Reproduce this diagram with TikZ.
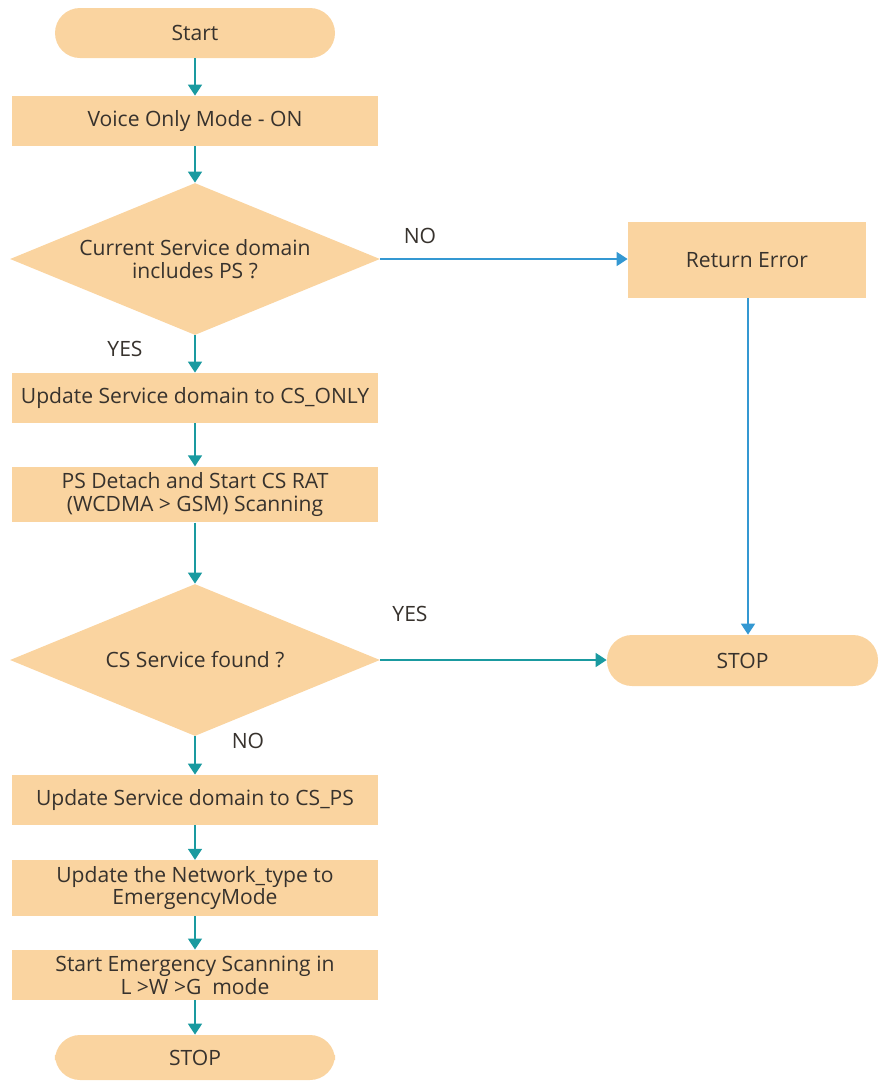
\documentclass[tikz,border=0pt]{standalone}
\usepackage{fontspec}
\setmainfont{Open Sans}
\usepackage{tikz}
\usetikzlibrary{arrows.meta,positioning,shapes.geometric,calc}

\definecolor{peach}{RGB}{250,212,160}
\definecolor{tealarr}{RGB}{26,154,160}
\definecolor{bluearr}{RGB}{52,152,210}
\definecolor{inktxt}{RGB}{55,50,45}

\begin{document}
\begin{tikzpicture}[
  every node/.style={text=inktxt, font=\fontsize{12}{13}\selectfont},
  term/.style={fill=peach, rounded corners=0.5cm, minimum height=1.0cm, align=center},
  proc/.style={fill=peach, minimum width=7.32cm, minimum height=1.0cm, align=center},
  dec/.style={fill=peach, diamond, aspect=2.43, inner sep=0pt, minimum width=7.4cm, minimum height=3.04cm, align=center},
  lbl/.style={font=\fontsize{12}{13}\selectfont},
  flow/.style={-{Triangle[length=2.2mm,width=2.8mm]}, tealarr, line width=0.9pt},
  back/.style={-{Triangle[length=2.2mm,width=2.8mm]}, bluearr, line width=0.9pt},
]
\useasboundingbox (0,0) rectangle (17.58,-21.64);

\node[term, minimum width=5.6cm] (start) at (3.9,-0.66) {Start};
\node[proc] (voice) at (3.9,-2.42) {Voice Only Mode - ON};
\node[dec] (dps) at (3.9,-5.18) {Current Service domain\\includes PS ?};
\node[proc] (csonly) at (3.9,-7.96) {Update Service domain to CS\_ONLY};
\node[proc, minimum height=1.06cm] (detach) at (3.9,-9.89) {PS Detach and Start CS RAT\\(WCDMA > GSM) Scanning};
\node[dec] (dcs) at (3.9,-13.2) {CS Service found ?};
\node[proc] (csps) at (3.9,-16.0) {Update Service domain to CS\_PS};
\node[proc] (ntype) at (3.9,-17.76) {Update the Network\_type to\\EmergencyMode};
\node[proc] (escan) at (3.9,-19.5) {Start Emergency Scanning in\\L >W >G \ mode};
\node[term, minimum width=5.6cm, minimum height=0.9cm] (stopa) at (3.9,-21.15) {STOP};

\node[proc, minimum width=4.76cm, minimum height=1.52cm] (err) at (14.94,-5.2) {Return Error};
\node[term, minimum width=5.42cm, minimum height=1.02cm] (stopb) at (14.85,-13.21) {STOP};

% answers
\node[lbl] (no1) at (8.4,-4.72) {NO};
\node[lbl] (yes1) at (2.5,-6.98) {YES};
\node[lbl] (yes2) at (8.2,-12.28) {YES};
\node[lbl] (no2) at (4.96,-14.82) {NO};

\draw[flow] (start) -- (voice);
\draw[flow] (voice) -- (dps);
\draw[flow] (dps) -- (csonly);
\draw[flow] (csonly) -- (detach);
\draw[flow] (detach) -- (dcs);
\draw[flow] (dcs) -- (csps);
\draw[flow] (csps) -- (ntype);
\draw[flow] (ntype) -- (escan);
\draw[flow] (escan) -- (stopa);
\draw[back] (dps.east) -- (dps.east -| err.west);
\draw[flow] (dcs.east) -- (dcs.east -| stopb.west);
\draw[back] ([xshift=0.02cm]err.south) -- ([xshift=0.02cm]err.south |- stopb.north);
\end{tikzpicture}
\end{document}
